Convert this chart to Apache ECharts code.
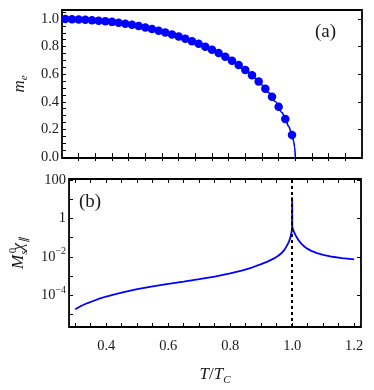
<!DOCTYPE html>
<html>
<head>
<meta charset="utf-8">
<script src="https://cdn.jsdelivr.net/npm/echarts@6/dist/echarts.min.js"></script>
<style>
  html, body { margin: 0; padding: 0; background: #fff; }
  #chart { width: 374px; height: 390px; }
</style>
</head>
<body>
<div id="chart"></div>
<script>
// panel (a): m_e, dots and solid curve
const pointT = [0.31, 0.33, 0.35, 0.37, 0.39, 0.41, 0.43, 0.45, 0.47, 0.49, 0.51, 0.53, 0.55, 0.57, 0.59, 0.61, 0.63, 0.65,
  0.67, 0.69, 0.71, 0.73, 0.75, 0.77, 0.79, 0.81, 0.83, 0.85, 0.87, 0.89, 0.91, 0.93, 0.95, 0.97, 0.99];
const pointM = [0.999, 0.998, 0.996, 0.994, 0.991, 0.988, 0.984, 0.979, 0.973, 0.966, 0.958, 0.949, 0.939, 0.928, 0.915, 0.902, 0.888, 0.873,
  0.857, 0.839, 0.820, 0.799, 0.777, 0.753, 0.727, 0.698, 0.666, 0.631, 0.592, 0.547, 0.495, 0.436, 0.365, 0.276, 0.160];
const curveT = [0.30, 0.35, 0.40, 0.45, 0.50, 0.55, 0.60, 0.65, 0.70, 0.75, 0.80, 0.85, 0.88, 0.90, 0.92, 0.94, 0.96, 0.97, 0.98, 0.99, 0.995, 0.998, 1.0];
const curveM = [1.0, 0.996, 0.990, 0.979, 0.962, 0.939, 0.909, 0.873, 0.830, 0.777, 0.713, 0.631, 0.570, 0.522, 0.467, 0.402, 0.322, 0.276, 0.222, 0.160, 0.114, 0.072, 0.0];

// panel (b): M_s^0 chi_par
const chiT = [0.30, 0.32, 0.34, 0.36, 0.38, 0.40, 0.43, 0.46, 0.50, 0.55, 0.60, 0.65, 0.70, 0.75, 0.80, 0.84, 0.87, 0.90, 0.92, 0.94,
  0.955, 0.965, 0.975, 0.983, 0.99, 0.995, 0.998, 0.9995, 1.0, 1.0005, 1.002, 1.005, 1.01, 1.015, 1.02, 1.03, 1.04, 1.05, 1.06,
  1.08, 1.10, 1.13, 1.16, 1.2];
const chiVal = [1.86e-5, 2.82e-5, 3.89e-5, 5.13e-5, 6.76e-5, 8.51e-5, 1.12e-4, 1.48e-4, 2.04e-4, 2.88e-4, 3.89e-4, 5.13e-4, 6.84e-4, 9.33e-4,
  1.35e-3, 1.95e-3, 2.75e-3, 4.17e-3, 5.62e-3, 7.94e-3, 1.12e-2, 1.51e-2, 2.29e-2, 3.8e-2, 6.31e-2, 0.112, 0.2, 0.28, 12.6, 0.355, 0.28,
  0.209, 0.141, 0.1, 0.0741, 0.0468, 0.0331, 0.0257, 0.0209, 0.0155, 0.0126, 0.01, 0.0085, 0.0074];
const tcT = 1.0;

// ticks and labels
const xTicksA = [0.35, 0.4, 0.45, 0.5, 0.55, 0.6, 0.65, 0.7, 0.75, 0.8, 0.85, 0.9, 0.95, 1.0, 1.05, 1.1, 1.15];
const xTicksB = [0.3, 0.35, 0.4, 0.45, 0.5, 0.55, 0.6, 0.65, 0.7, 0.75, 0.8, 0.85, 0.9, 0.95, 1.0, 1.05, 1.1, 1.15, 1.2];
const xLabels = [0.4, 0.6, 0.8, 1.0, 1.2];
const mTicks = [0, 0.05, 0.1, 0.15, 0.2, 0.25, 0.3, 0.35, 0.4, 0.45, 0.5, 0.55, 0.6, 0.65, 0.7, 0.75, 0.8, 0.85, 0.9, 0.95, 1.0, 1.05];
const mLabels = [0, 0.2, 0.4, 0.6, 0.8, 1.0];
const chiTicks = [1e-5, 1e-4, 1e-3, 1e-2, 1e-1, 1, 10, 100];
const chiLabels = [1e-4, 1e-2, 1, 100];

const FONT = 'Liberation Serif';
const BLUE = '#0000ff';
const INK = '#1a1a1a';

const tick = (vals) => ({ show: true, inside: true, length: 4, customValues: vals, lineStyle: { color: '#000', width: 1 } });
const noLine = { show: false };

function chiLabel(v) {
  if (v >= 1) return '{b|' + Math.round(v) + '}';
  const e = Math.round(-Math.log10(v));
  return '{b|10}{sup|\u2212' + e + '}';
}

const chart = echarts.init(document.getElementById('chart'), null, { renderer: 'canvas' });

chart.setOption({
  animation: false,
  textStyle: { fontFamily: FONT },
  grid: [
    { left: 62, top: 10, width: 300, height: 148, show: true, borderColor: '#000', borderWidth: 1.8, backgroundColor: '#fff' },
    { left: 62, top: 179, width: 299, height: 148, show: true, borderColor: '#000', borderWidth: 1.8, backgroundColor: '#fff' },
  ],
  xAxis: [
    { type: 'value', gridIndex: 0, min: 0.3, max: 1.2, position: 'bottom', axisLine: noLine, splitLine: noLine,
      axisTick: tick(xTicksA), axisLabel: { show: false } },
    { type: 'value', gridIndex: 0, min: 0.3, max: 1.2, position: 'top', axisLine: noLine, splitLine: noLine,
      axisTick: tick(xTicksA), axisLabel: { show: false } },
    { type: 'value', gridIndex: 1, min: 0.28, max: 1.222, position: 'bottom', axisLine: noLine, splitLine: noLine,
      axisTick: tick(xTicksB),
      axisLabel: { customValues: xLabels, margin: 12, fontSize: 14.5, fontFamily: FONT, color: INK,
        formatter: (v) => v.toFixed(1) },
      name: '{i|T}{n|/}{i|T}{sub|C}', nameLocation: 'middle', nameGap: 37,
      nameTextStyle: { rich: {
        i: { fontFamily: FONT, fontStyle: 'italic', fontSize: 17, color: INK, lineHeight: 22, verticalAlign: 'middle' },
        n: { fontFamily: FONT, fontSize: 17, color: INK, lineHeight: 22, verticalAlign: 'middle' },
        sub: { fontFamily: FONT, fontStyle: 'italic', fontSize: 11, color: INK, lineHeight: 12, verticalAlign: 'bottom' },
      } } },
    { type: 'value', gridIndex: 1, min: 0.28, max: 1.222, position: 'top', axisLine: noLine, splitLine: noLine,
      axisTick: tick(xTicksB), axisLabel: { show: false } },
  ],
  yAxis: [
    { type: 'value', gridIndex: 0, min: -0.007, max: 1.065, position: 'left', axisLine: noLine, splitLine: noLine,
      axisTick: tick(mTicks),
      axisLabel: { customValues: mLabels, margin: 3, fontSize: 14.5, fontFamily: FONT, color: INK,
        formatter: (v) => v.toFixed(1) },
      name: '{i|m}{sub|e}', nameLocation: 'middle', nameRotate: 90, nameGap: 23,
      nameTextStyle: { rich: {
        i: { fontFamily: FONT, fontStyle: 'italic', fontSize: 17, color: INK, lineHeight: 20, verticalAlign: 'middle' },
        sub: { fontFamily: FONT, fontStyle: 'italic', fontSize: 11, color: INK, lineHeight: 12, verticalAlign: 'bottom' },
      } } },
    { type: 'value', gridIndex: 0, min: -0.007, max: 1.065, position: 'right', axisLine: noLine, splitLine: noLine,
      axisTick: tick(mLabels), axisLabel: { show: false } },
    { type: 'log', logBase: 10, gridIndex: 1, min: 2.2e-6, max: 112, position: 'left', axisLine: noLine, splitLine: noLine,
      axisTick: tick(chiTicks),
      axisLabel: { customValues: chiLabels, margin: 3, fontFamily: FONT, color: INK, formatter: chiLabel,
        rich: {
          b: { fontFamily: FONT, fontSize: 14.5, color: INK, lineHeight: 20, verticalAlign: 'middle' },
          sup: { fontFamily: FONT, fontSize: 10, color: INK, lineHeight: 11, verticalAlign: 'top' },
        } },
      name: '{i|M}{sub|s}{sup|0}{c|\u03c7}{sub|\u2225}', nameLocation: 'middle', nameRotate: 90, nameGap: 36,
      nameTextStyle: { rich: {
        i: { fontFamily: FONT, fontStyle: 'italic', fontSize: 17, color: INK, lineHeight: 22, verticalAlign: 'middle' },
        c: { fontFamily: FONT, fontStyle: 'italic', fontSize: 17, color: INK, lineHeight: 22, verticalAlign: 'middle' },
        sub: { fontFamily: FONT, fontStyle: 'italic', fontSize: 11, color: INK, lineHeight: 12, verticalAlign: 'bottom' },
        sup: { fontFamily: FONT, fontSize: 11, color: INK, lineHeight: 12, verticalAlign: 'top', width: 0.1 },
      } } },
    { type: 'log', logBase: 10, gridIndex: 1, min: 2.2e-6, max: 112, position: 'right', axisLine: noLine, splitLine: noLine,
      axisTick: tick(chiLabels), axisLabel: { show: false } },
  ],
  graphic: [
    { type: 'text', left: 315, top: 23, style: { text: '(a)', font: '19px "Liberation Serif"', fill: INK } },
    { type: 'text', left: 79, top: 193, style: { text: '(b)', font: '19px "Liberation Serif"', fill: INK } },
  ],
  series: [
    { type: 'line', xAxisIndex: 0, yAxisIndex: 0, data: curveT.map((t, i) => [t, curveM[i]]),
      showSymbol: false, smooth: 0.3, smoothMonotone: 'x', lineStyle: { color: BLUE, width: 1.6 }, z: 2 },
    { type: 'scatter', xAxisIndex: 0, yAxisIndex: 0, data: pointT.map((t, i) => [t, pointM[i]]),
      symbolSize: 8.5, itemStyle: { color: BLUE, opacity: 1 }, z: 3 },
    { type: 'line', xAxisIndex: 2, yAxisIndex: 2, data: chiT.map((t, i) => [t, chiVal[i]]),
      showSymbol: false, lineStyle: { color: BLUE, width: 1.8 }, z: 3,
      markLine: { silent: true, symbol: 'none', label: { show: false },
        lineStyle: { color: '#000', type: [3, 3], width: 2 },
        data: [{ xAxis: tcT }] } },
  ],
});
</script>
</body>
</html>
